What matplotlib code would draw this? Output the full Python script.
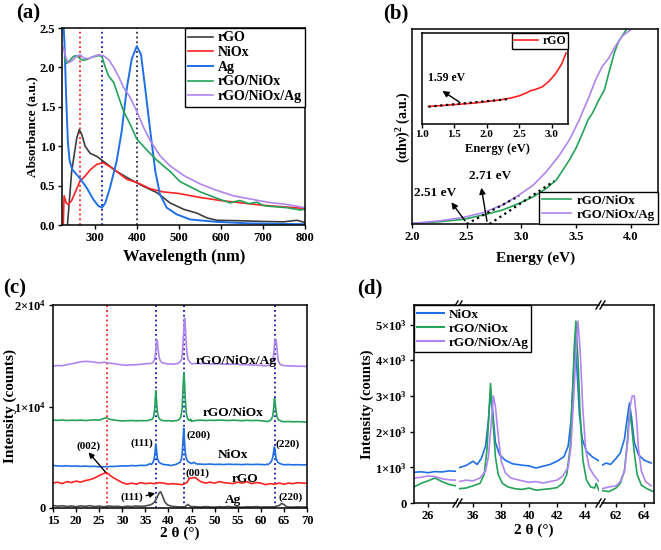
import matplotlib
matplotlib.use('Agg')
import matplotlib.pyplot as plt
from matplotlib.lines import Line2D
from matplotlib.ticker import FuncFormatter

plt.rcParams['font.family'] = ['Liberation Serif', 'DejaVu Serif']
plt.rcParams['font.weight'] = 'bold'
plt.rcParams['axes.labelweight'] = 'bold'
plt.rcParams['mathtext.fontset'] = 'custom'
plt.rcParams['mathtext.rm'] = 'Liberation Serif:bold'
plt.rcParams['mathtext.bf'] = 'Liberation Serif:bold'
plt.rcParams['mathtext.it'] = 'Liberation Serif:bold:italic'

# ---------------- (a) UV-vis absorbance ----------------
a_labels = ['rGO', 'NiOx', 'Ag', 'rGO/NiOx', 'rGO/NiOx/Ag']
a_wl_rgo = [235, 245, 257, 263, 269, 277, 289, 305, 320, 352, 384, 416, 448, 479, 511, 543, 567, 590, 638, 701, 749, 781, 800]
a_abs_rgo = [0.0, 0.68, 1.10, 1.21, 1.15, 1.00, 0.91, 0.87, 0.81, 0.68, 0.58, 0.49, 0.41, 0.28, 0.20, 0.15, 0.09, 0.06, 0.055, 0.045, 0.04, 0.06, 0.03]
a_wl_niox = [225, 226, 227, 232, 237, 245, 257, 265, 277, 289, 305, 320, 336, 352, 376, 400, 432, 463, 500, 550, 600, 650, 700, 750, 800]
a_abs_niox = [0.0, 0.2, 0.37, 0.28, 0.26, 0.31, 0.46, 0.56, 0.62, 0.70, 0.77, 0.79, 0.74, 0.68, 0.58, 0.54, 0.46, 0.42, 0.40, 0.35, 0.31, 0.28, 0.25, 0.23, 0.21]
a_wl_ag = [225, 228, 232, 236, 240, 246, 255, 265, 281, 297, 309, 317, 325, 336, 352, 364, 376, 388, 400, 410, 420, 432, 444, 455, 471, 495, 527, 590, 670, 800]
a_abs_ag = [2.6, 2.3, 1.6, 1.05, 0.82, 0.71, 0.65, 0.59, 0.47, 0.32, 0.24, 0.22, 0.28, 0.47, 0.81, 1.19, 1.73, 2.11, 2.27, 2.16, 1.73, 1.19, 0.68, 0.39, 0.22, 0.135, 0.07, 0.04, 0.02, 0.01]
a_wl_gn = [228, 233, 241, 249, 257, 265, 273, 281, 293, 309, 317, 325, 333, 345, 357, 368, 384, 400, 424, 448, 479, 503, 551, 590, 622, 635, 646, 666, 686, 700, 710, 757, 789, 800]
a_abs_gn = [2.12, 2.05, 2.09, 2.14, 2.15, 2.11, 2.09, 2.10, 2.13, 2.15, 2.14, 2.00, 1.89, 1.81, 1.62, 1.45, 1.28, 1.09, 0.95, 0.82, 0.68, 0.55, 0.42, 0.34, 0.28, 0.30, 0.31, 0.27, 0.29, 0.25, 0.24, 0.22, 0.19, 0.20]
a_wl_pu = [225, 232, 237, 245, 257, 265, 273, 285, 297, 309, 320, 333, 345, 357, 368, 384, 400, 416, 432, 455, 479, 511, 551, 590, 630, 670, 710, 757, 800]
a_abs_pu = [2.26, 2.11, 2.06, 2.08, 2.14, 2.16, 2.12, 2.11, 2.14, 2.16, 2.15, 2.10, 2.00, 1.88, 1.75, 1.62, 1.44, 1.24, 1.07, 0.88, 0.75, 0.63, 0.52, 0.44, 0.37, 0.33, 0.29, 0.26, 0.22]
a_marks = [265, 317, 400]

# ---------------- (b) Tauc plot ----------------
b_e_gn = [2.0, 2.26, 2.47, 2.65, 2.83, 2.98, 3.11, 3.23, 3.32, 3.38, 3.44, 3.50, 3.56, 3.61, 3.65, 3.71, 3.76, 3.80, 3.85, 3.89, 3.94, 3.97]
b_y_gn = [0.03, 0.12, 0.24, 0.46, 0.72, 1.06, 1.40, 1.83, 2.26, 2.77, 3.29, 3.89, 4.66, 5.34, 5.68, 6.37, 6.88, 7.74, 8.77, 9.37, 9.79, 10.05]
b_e_pu = [2.0, 2.26, 2.47, 2.65, 2.83, 2.98, 3.11, 3.23, 3.35, 3.44, 3.53, 3.62, 3.68, 3.74, 3.80, 3.86, 3.92, 3.98, 4.02]
b_y_pu = [0.03, 0.17, 0.34, 0.58, 0.98, 1.49, 2.00, 2.69, 3.54, 4.32, 5.34, 6.54, 7.40, 8.08, 8.51, 9.11, 9.62, 9.88, 10.05]
b_fit_gn_x = [2.71, 3.30]
b_fit_gn_y = [0.0, 2.2]
b_fit_pu_x = [2.5, 2.98]
b_fit_pu_y = [0.0, 1.44]
b_gaps = ['2.51 eV', '2.71 eV']
inset_e = [1.1, 1.3, 1.59, 1.8, 2.0, 2.2, 2.36, 2.5, 2.62, 2.66, 2.70, 2.75, 2.85, 2.95, 3.05, 3.15, 3.22]
inset_y = [1.93, 2.03, 2.18, 2.30, 2.47, 2.65, 2.84, 3.10, 3.45, 3.62, 3.70, 3.80, 4.07, 4.65, 5.45, 6.55, 7.8]
inset_fit_x = [1.1, 2.35]
inset_fit_y = [1.9, 2.75]

# ---------------- (c)/(d) XRD ----------------
xrd_ag_2t = [15, 16, 17, 18, 19, 20, 21, 22, 23, 24, 25, 26, 27, 28, 29, 30, 31, 32, 33, 34,
             35, 36, 36.5, 37, 37.5, 38, 38.3, 38.7, 39.2, 39.8, 40.5,
             41, 42, 43, 43.5, 44.2, 44.8,
             46, 47, 48, 49, 50, 51, 52, 53, 54, 55, 56, 57, 58, 59, 60, 61, 62, 63,
             64, 64.5, 65, 65.5, 66, 67, 68, 69, 70]
xrd_ag = [250, 180, 220, 150, 200, 130, 210, 160, 230, 140, 190, 120, 200, 150, 170, 110, 180, 140, 200, 160,
          200, 300, 400, 600, 1000, 1500, 1600, 1200, 600, 300, 200,
          150, 120, 100, 100, 350, 150,
          120, 90, 140, 100, 80, 130, 100, 150, 90, 110, 80, 120, 100, 140, 90, 110, 100, 130,
          250, 450, 350, 150, 100, 80, 120, 90, 100]
xrd_rgo_2t = [15, 16, 17, 18, 19, 20, 21, 22, 23, 24, 25, 26, 26.5, 27,
              28, 29, 30, 31, 32, 33, 34, 35, 36, 37, 38, 39, 40, 41, 42, 43, 44,
              44.5, 45, 45.5, 46, 46.5,
              47, 48, 49, 50, 51, 52, 53, 54, 55, 56, 57, 58, 59, 60, 61, 62, 63, 64, 65, 66, 67, 68, 69, 70]
xrd_rgo = [2450, 2550, 2400, 2600, 2500, 2650, 2550, 2700, 2800, 2950, 3200, 3400, 3500, 3350,
           3000, 2750, 2500, 2350, 2450, 2350, 2500, 2400, 2450, 2400, 2500, 2450, 2350, 2400, 2350, 2300, 2500,
           2900, 2950, 3000, 2950, 2750,
           2600, 2450, 2550, 2450, 2600, 2500, 2450, 2400, 2550, 2450, 2600, 2400, 2500, 2450, 2300, 2400, 2350, 2450, 2350, 2450, 2400, 2500, 2450, 2450]
xrd_niox_2t = [15, 16, 17, 18, 19, 20, 21, 22, 23, 24,
               25, 25.5, 26, 26.5, 27, 27.5, 28,
               29, 30, 31, 32, 33, 34, 35,
               35.5, 36, 36.3, 36.6, 36.9, 37.1, 37.25, 37.4, 37.6, 37.9, 38.3, 38.8, 39.5,
               40, 40.5, 41, 41.5, 42, 42.5, 42.8, 43.0, 43.15, 43.3, 43.45, 43.6, 43.8, 44.1, 44.5, 45, 45.5,
               46, 47, 48, 49, 50, 51, 52, 53, 54, 55, 56, 57, 58, 59, 60,
               61, 61.3, 61.6, 62, 62.3, 62.6, 62.8, 62.95, 63.1, 63.3, 63.6, 64, 64.5, 65,
               66, 67, 68, 69, 70]
xrd_niox = [980, 950, 930, 960, 920, 940, 900, 930, 890, 910,
            860, 875, 850, 880, 870, 900, 890,
            920, 950, 940, 980, 960, 1000, 990,
            1050, 1170, 1080, 1250, 1600, 2300, 3100, 2600, 1700, 1350, 1200, 1100, 1060,
            1040, 980, 1030, 1080, 1170, 1300, 1600, 2300, 3400, 4650, 3600, 2500, 1800, 1450, 1300, 1180, 1300,
            1150, 1120, 1100, 1130, 1090, 1110, 1080, 1120, 1090, 1100, 1070, 1110, 1080, 1100, 1090,
            1060, 1120, 1080, 1250, 1400, 1800, 2400, 2800, 2400, 1700, 1350, 1200, 1120, 1060,
            1080, 1050, 1070, 1040, 1060]
xrd_gn_2t = [15, 16, 17, 18, 19, 20, 21, 22, 23, 24,
             25, 25.5, 26, 26.5, 27, 27.5, 28,
             29, 30, 31, 32, 33, 34, 35,
             35.5, 36, 36.5, 36.8, 37.0, 37.15, 37.25, 37.4, 37.6, 37.8, 38.1, 38.5, 39, 39.5,
             40, 40.5, 41, 41.5, 42, 42.4, 42.7, 42.95, 43.1, 43.25, 43.35, 43.5, 43.65, 43.85, 44.1, 44.4, 44.7, 44.8, 45,
             46, 47, 48, 49, 50, 51, 52, 53, 54, 55, 56, 57, 58, 59, 60,
             61, 61.5, 62, 62.3, 62.6, 62.8, 62.95, 63.1, 63.3, 63.5, 63.8, 64.2, 64.6, 65,
             66, 67, 68, 69, 70]
xrd_gn = [450, 430, 470, 420, 450, 430, 460, 420, 450, 480,
          450, 550, 620, 700, 600, 520, 480,
          420, 380, 400, 420, 390, 410, 400,
          420, 480, 550, 800, 1500, 2600, 3350, 2500, 1300, 800, 550, 450, 400, 380,
          420, 360, 380, 400, 430, 550, 800, 1600, 3000, 4500, 5100, 4000, 2500, 1200, 650, 450, 420, 550, 350,
          430, 460, 420, 450, 430, 460, 440, 420, 450, 430, 400, 440, 410, 430, 400,
          350, 320, 420, 550, 900, 1700, 2600, 2200, 1400, 800, 500, 400, 330, 300,
          320, 290, 310, 280, 270]
xrd_pu_2t = [15, 16, 17, 18, 19, 20, 21, 22, 23, 24,
             25, 25.5, 26, 26.5, 27, 27.5, 28,
             29, 30, 31, 32, 33, 34, 35,
             35.5, 36, 36.5, 36.9, 37.1, 37.3, 37.45, 37.6, 37.8, 38.0, 38.3, 38.7, 39.2,
             40, 40.5, 41, 41.5, 42, 42.4, 42.8, 43.0, 43.2, 43.4, 43.5, 43.65, 43.85, 44.05, 44.3, 44.6, 44.8, 45,
             46, 47, 48, 49, 50, 51, 52, 53, 54, 55, 56, 57, 58, 59, 60,
             61, 61.5, 62, 62.3, 62.6, 62.85, 63.0, 63.15, 63.3, 63.45, 63.6, 63.8, 64.1, 64.5, 65,
             66, 67, 68, 69, 70]
xrd_pu = [400, 430, 420, 520, 600, 700, 800, 850, 820, 760,
          700, 720, 760, 740, 680, 650, 640,
          560, 500, 470, 500, 520, 560, 600,
          640, 620, 700, 900, 1300, 2200, 3000, 2700, 1900, 1200, 850, 700, 650,
          580, 600, 560, 600, 640, 750, 1000, 1600, 3000, 4600, 5100, 4300, 2600, 1500, 1000, 800, 700, 600,
          650, 620, 640, 600, 590, 610, 570, 560, 580, 540, 520, 530, 490, 480, 450,
          400, 450, 480, 600, 900, 1800, 2700, 3000, 3000, 2400, 1500, 900, 600, 480, 430,
          400, 390, 360, 370, 340]
c_names = ['Ag', 'rGO', 'NiOx', 'rGO/NiOx', 'rGO/NiOx/Ag']
c_offsets = [0, 0, 3200, 8200, 13600]
c_marks_red = [26.7]
c_marks_blue = [37.3, 43.4, 63.0]
d_windows = [(25, 28), (35, 45), (61, 64.7)]
d_ticks = [[26], [36, 38, 40, 42, 44], [62, 64]]

# ---------------- styling ----------------
C_RGO = '#3d3d3d'
C_NIOX = '#ff2323'
C_AG = '#1f6fe6'
C_GN = '#25a25a'
C_PU = '#b185f0'
C_AGX = '#4d4d4d'
NAVY = '#1414b0'

W, H = 661, 550


def box(l, t, r, b):
    return [l / W, 1 - b / H, (r - l) / W, (b - t) / H]


def style(ax, fs=9, pad=2):
    for s in ax.spines.values():
        s.set_linewidth(1.1)
    ax.tick_params(direction='out', length=3, width=1, labelsize=fs, pad=pad)


def legend_frame(leg):
    fr = leg.get_frame()
    fr.set_edgecolor('black')
    fr.set_linewidth(1.0)
    fr.set_alpha(1)


fig = plt.figure(figsize=(W / 100, H / 100), dpi=100)

# ======== (a) ========
axA = fig.add_axes(box(62, 28, 305, 225))
style(axA)
axA.plot(a_wl_rgo, a_abs_rgo, color=C_RGO, lw=1.2, label=a_labels[0])
axA.plot(a_wl_niox, a_abs_niox, color=C_NIOX, lw=1.2, label=a_labels[1])
axA.plot(a_wl_ag, a_abs_ag, color=C_AG, lw=1.4, label=a_labels[2])
axA.plot(a_wl_gn, a_abs_gn, color=C_GN, lw=1.2, label=a_labels[3])
axA.plot(a_wl_pu, a_abs_pu, color=C_PU, lw=1.2, label=a_labels[4])
for xv, col in zip(a_marks, ['#ff2020', NAVY, '#2a2a55']):
    axA.axvline(xv, color=col, ls=':', lw=1.3, zorder=0.5)
axA.set_xlim(222, 800)
axA.set_ylim(0, 2.5)
axA.set_xticks([300, 400, 500, 600, 700, 800])
axA.set_yticks([0, 0.5, 1.0, 1.5, 2.0, 2.5])
axA.yaxis.set_major_formatter(FuncFormatter(lambda v, p: f'{v:.1f}'))
leg = axA.legend(loc='upper right', borderaxespad=0, fontsize=10, handlelength=1.8,
                 labelspacing=0.12, borderpad=0.25, handletextpad=0.3, fancybox=False)
legend_frame(leg)
fig.text(184 / W, 1 - 257 / H, 'Wavelength (nm)', ha='center', va='center', fontsize=12)
fig.text(32 / W, 1 - 127 / H, 'Absorbance (a.u.)', ha='center', va='center', fontsize=9.5, rotation=90)
fig.text(16 / W, 1 - 13 / H, '(a)', ha='left', va='center', fontsize=15)

# ======== (b) ========
axB = fig.add_axes(box(412, 29, 658, 224))
style(axB)
axB.plot(b_e_gn, b_y_gn, color=C_GN, lw=1.2, label='rGO/NiOx')
axB.plot(b_e_pu, b_y_pu, color=C_PU, lw=1.2, label='rGO/NiOx/Ag')
axB.plot(b_fit_gn_x, b_fit_gn_y, color='black', ls=':', lw=1.6)
axB.plot(b_fit_pu_x, b_fit_pu_y, color='black', ls=':', lw=1.6)
axB.set_xlim(2.0, 4.25)
axB.set_ylim(0, 10)
axB.set_yticks([])
axB.set_xticks([2.0, 2.5, 3.0, 3.5, 4.0])
arr = dict(arrowstyle='-|>', color='black', lw=1.0, mutation_scale=9)
axB.annotate('', xy=(2.345, 1.23), xytext=(2.50, 0.05), arrowprops=arr)
axB.text(2.21, 1.6, b_gaps[0], ha='center', va='center', fontsize=9.5)
axB.annotate('', xy=(2.63, 2.0), xytext=(2.69, 0.0), arrowprops=arr)
axB.text(2.71, 2.46, b_gaps[1], ha='center', va='center', fontsize=9.5)
leg = axB.legend(loc='lower right', borderaxespad=0, fontsize=9.3, handlelength=2.3,
                 labelspacing=0.15, borderpad=0.25, handletextpad=0.4, fancybox=False)
legend_frame(leg)
fig.text(536 / W, 1 - 258 / H, 'Energy (eV)', ha='center', va='center', fontsize=11)
fig.text(404 / W, 1 - 127 / H, r'(αhν)$^{2}$ (a.u.)', ha='center', va='center', fontsize=10, rotation=90)
fig.text(383 / W, 1 - 13 / H, '(b)', ha='left', va='center', fontsize=15)

axI = fig.add_axes(box(422, 33, 568, 124))
style(axI, fs=8, pad=1)
axI.plot(inset_e, inset_y, color='#ff2020', lw=1.2, label='rGO')
axI.plot(inset_fit_x, inset_fit_y, color='black', ls=':', lw=1.6)
axI.set_xlim(1.0, 3.25)
axI.set_ylim(0, 10)
axI.set_yticks([])
axI.set_xticks([1.0, 1.5, 2.0, 2.5, 3.0])
axI.annotate('', xy=(1.28, 3.8), xytext=(1.62, 2.2), arrowprops=arr)
axI.text(1.38, 5.1, '1.59 eV', ha='center', va='center', fontsize=8.5)
leg = axI.legend(loc='upper right', borderaxespad=0, fontsize=8.5, handlelength=2.0,
                 borderpad=0.15, handletextpad=0.4, fancybox=False)
legend_frame(leg)
fig.text(497 / W, 1 - 149 / H, 'Energy (eV)', ha='center', va='center', fontsize=9)

# ======== (c) ========
axC = fig.add_axes(box(53, 305, 307, 508))
style(axC)
c_data = [(xrd_ag_2t, xrd_ag, C_AGX), (xrd_rgo_2t, xrd_rgo, C_NIOX), (xrd_niox_2t, xrd_niox, C_AG),
          (xrd_gn_2t, xrd_gn, C_GN), (xrd_pu_2t, xrd_pu, C_PU)]
for (xs, ys, col), off in zip(c_data, c_offsets):
    axC.plot(xs, [v + off for v in ys], color=col, lw=1.2)
for xv in c_marks_red:
    axC.axvline(xv, color='#ff2020', ls=':', lw=1.3, zorder=0.5)
for xv in c_marks_blue:
    axC.axvline(xv, color=NAVY, ls=':', lw=1.3, zorder=0.5)
axC.set_xlim(15, 70)
axC.set_ylim(0, 20000)
axC.set_xticks(range(15, 71, 5))
axC.set_yticks([0, 10000, 20000])
axC.set_yticklabels(['0', r'$1{\times}10^{4}$', r'$2{\times}10^{4}$'])
lab_pos = [(53.9, 750), (56.5, 2850), (54.0, 5250), (54.1, 9340), (54.6, 14520)]
for name, (xv, yv) in zip(c_names, lab_pos):
    axC.text(xv, yv, name, ha='center', va='center', fontsize=9.6)
hkl = [('(002)', 22.8, 6070), ('(111)', 34.2, 6390), ('(200)', 46.5, 7150), ('(220)', 65.9, 6330),
       ('(001)', 46.3, 3440), ('(111)', 32.0, 1080), ('(220)', 66.5, 1080)]
for t, xv, yv in hkl:
    axC.text(xv, yv, t, ha='center', va='center', fontsize=8)
arr2 = dict(arrowstyle='-|>', color='black', lw=1.0, mutation_scale=8)
axC.annotate('', xy=(22.3, 5700), xytext=(26.8, 3300), arrowprops=arr2)
axC.annotate('', xy=(37.7, 1520), xytext=(34.6, 1150), arrowprops=arr2)
fig.text(180 / W, 1 - 533 / H, '2 θ (°)', ha='center', va='center', fontsize=11)
fig.text(10 / W, 1 - 406 / H, 'Intensity (counts)', ha='center', va='center', fontsize=11, rotation=90)
fig.text(3 / W, 1 - 288 / H, '(c)', ha='left', va='center', fontsize=15)

# ======== (d) ========
seg_px = [(414, 456), (459, 599), (602, 654)]
d_data = [(xrd_niox_2t, xrd_niox, C_AG, 'NiOx'), (xrd_gn_2t, xrd_gn, C_GN, 'rGO/NiOx'),
          (xrd_pu_2t, xrd_pu, C_PU, 'rGO/NiOx/Ag')]
d_axes = []
for i, ((l, r), (lo, hi), tks) in enumerate(zip(seg_px, d_windows, d_ticks)):
    ax = fig.add_axes(box(l, 305, r, 503))
    style(ax)
    for xs, ys, col, name in d_data:
        px = [x for x in xs if lo - 0.01 <= x <= hi + 0.01]
        py = [y for x, y in zip(xs, ys) if lo - 0.01 <= x <= hi + 0.01]
        ax.plot(px, py, color=col, lw=1.2, label=name)
    ax.set_xlim(lo, hi)
    ax.set_ylim(0, 5550)
    ax.set_xticks(tks)
    if i > 0:
        ax.spines['left'].set_visible(False)
        ax.tick_params(left=False, labelleft=False)
    if i < 2:
        ax.spines['right'].set_visible(False)
    d_axes.append(ax)
d_axes[0].set_yticks([0, 1000, 2000, 3000, 4000, 5000])
d_axes[0].yaxis.set_major_formatter(FuncFormatter(
    lambda v, p: '0' if v == 0 else r'$%d{\times}10^{3}$' % int(round(v / 1000))))
for xc in [457.5, 600.5]:
    for yc in [305, 503]:
        for dx in [-2.0, 2.0]:
            fig.add_artist(Line2D([(xc + dx - 2.5) / W, (xc + dx + 2.5) / W],
                                  [1 - (yc + 4) / H, 1 - (yc - 4) / H],
                                  color='black', lw=1.0))
handles = [Line2D([], [], color=c, lw=1.5) for _, _, c, _ in d_data]
leg = fig.legend(handles, [n for _, _, _, n in d_data], loc='upper left',
                 bbox_to_anchor=(414 / W, 1 - 305 / H), borderaxespad=0, fontsize=9.5,
                 handlelength=2.0, labelspacing=0.15, borderpad=0.25, handletextpad=0.35, fancybox=False)
legend_frame(leg)
fig.text(534 / W, 1 - 530 / H, '2 θ (°)', ha='center', va='center', fontsize=11)
fig.text(367 / W, 1 - 404 / H, 'Intensity (counts)', ha='center', va='center', fontsize=10.5, rotation=90)
fig.text(357 / W, 1 - 288 / H, '(d)', ha='left', va='center', fontsize=15)

fig.savefig('out.png', dpi=100)
